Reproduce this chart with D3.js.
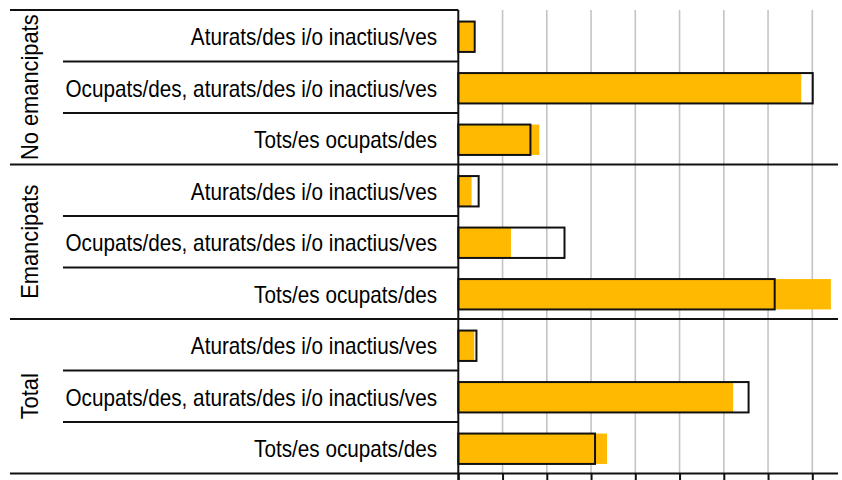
<!DOCTYPE html>
<html>
<head>
<meta charset="utf-8">
<script src="https://cdn.jsdelivr.net/npm/d3@7"></script>
<style>
  html, body { margin: 0; padding: 0; background: #ffffff; }
  svg { display: block; }
  text { font-family: "Liberation Sans", Arial, sans-serif; fill: #000; }
</style>
</head>
<body>
<svg id="chart" width="842" height="480"></svg>
<script>
// Groups and categories (rows are drawn top to bottom)
const groups = ["No emancipats", "Emancipats", "Total"];
const categories = [
  "Aturats/des i/o inactius/ves",
  "Ocupats/des, aturats/des i/o inactius/ves",
  "Tots/es ocupats/des"
];
// Percentages per row (group × category), in the same order
const filledValues   = [3.5, 77.5, 18.3,  3.0, 11.9, 84.2,  3.6, 62.1, 33.6];
const outlinedValues = [3.7, 80.1, 16.3,  4.6, 24.0, 71.5,  4.1, 65.6, 30.9];
const gridTicks = [0, 10, 20, 30, 40, 50, 60, 70, 80];

const rows = [];
groups.forEach((g, gi) => categories.forEach((c, ci) => {
  const i = gi * categories.length + ci;
  rows.push({ key: g + "|" + c, group: g, category: c, filled: filledValues[i], outlined: outlinedValues[i] });
}));

const svg = d3.select("#chart");
const plotTop = 10, plotBottom = 473.5, axisX = 458.3, rightEnd = 838;
const fontSize = 23, squeeze = 0.9, groupSqueeze = 0.95;

const x = d3.scaleLinear().domain([0, 80]).range([axisX, 812.3]);
const y = d3.scaleBand().domain(rows.map(d => d.key)).range([plotTop, plotBottom]).paddingInner(0.41).paddingOuter(0.205);
const rowStep = y.step();

// vertical gridlines
svg.append("g").selectAll("line").data(gridTicks.slice(1)).join("line")
  .attr("x1", d => x(d)).attr("x2", d => x(d))
  .attr("y1", plotTop).attr("y2", plotBottom)
  .attr("stroke", "#c4c4c4").attr("stroke-width", 1.6);

// filled bars
svg.append("g").selectAll("rect").data(rows).join("rect")
  .attr("x", x(0)).attr("y", d => y(d.key) + 1)
  .attr("width", d => x(d.filled) - x(0)).attr("height", y.bandwidth())
  .attr("fill", "#FFB900");

// outlined bars on top
svg.append("g").selectAll("rect").data(rows).join("rect")
  .attr("x", x(0)).attr("y", d => y(d.key) + 1)
  .attr("width", d => x(d.outlined) - x(0)).attr("height", y.bandwidth())
  .attr("fill", "none").attr("stroke", "#111").attr("stroke-width", 2);

// x axis with downward ticks
const xAxis = d3.axisBottom(x).tickValues(gridTicks).tickSize(7).tickFormat("");
const gx = svg.append("g").attr("transform", `translate(0,${plotBottom})`).call(xAxis);
gx.select(".domain").remove();
gx.selectAll(".tick line").attr("stroke", "#111").attr("stroke-width", 2);
svg.append("line").attr("x1", 10).attr("x2", rightEnd).attr("y1", plotBottom).attr("y2", plotBottom)
  .attr("stroke", "#111").attr("stroke-width", 2);

// left axis line
svg.append("line").attr("x1", axisX).attr("x2", axisX).attr("y1", plotTop).attr("y2", 480)
  .attr("stroke", "#111").attr("stroke-width", 2);

// top border of the label area
svg.append("line").attr("x1", 10).attr("x2", axisX).attr("y1", plotTop).attr("y2", plotTop)
  .attr("stroke", "#111").attr("stroke-width", 2);

// group separators across the full width
const groupEdges = groups.slice(1).map((g, i) => plotTop + (i + 1) * categories.length * rowStep);
svg.append("g").selectAll("line").data(groupEdges).join("line")
  .attr("x1", 10).attr("x2", rightEnd).attr("y1", d => d).attr("y2", d => d)
  .attr("stroke", "#111").attr("stroke-width", 2);

// category separators inside each group
const catEdges = [];
groups.forEach((g, gi) => {
  for (let k = 1; k < categories.length; k++) catEdges.push(plotTop + (gi * categories.length + k) * rowStep);
});
svg.append("g").selectAll("line").data(catEdges).join("line")
  .attr("x1", 63).attr("x2", axisX).attr("y1", d => d).attr("y2", d => d)
  .attr("stroke", "#111").attr("stroke-width", 2);

// category labels
svg.append("g").selectAll("text").data(rows).join("text")
  .attr("transform", d => `translate(437,${y(d.key) + y.bandwidth() / 2 + 1 + fontSize * 0.36}) scale(${squeeze},1)`)
  .attr("text-anchor", "end")
  .style("font-size", fontSize + "px")
  .text(d => d.category);

// group labels, rotated
svg.append("g").selectAll("text").data(groups).join("text")
  .attr("transform", (g, gi) => {
    const cy = plotTop + (gi + 0.5) * categories.length * rowStep;
    return `translate(37.5,${cy}) rotate(-90) scale(${groupSqueeze},1)`;
  })
  .attr("text-anchor", "middle")
  .style("font-size", fontSize + "px")
  .text(d => d);
</script>
</body>
</html>
